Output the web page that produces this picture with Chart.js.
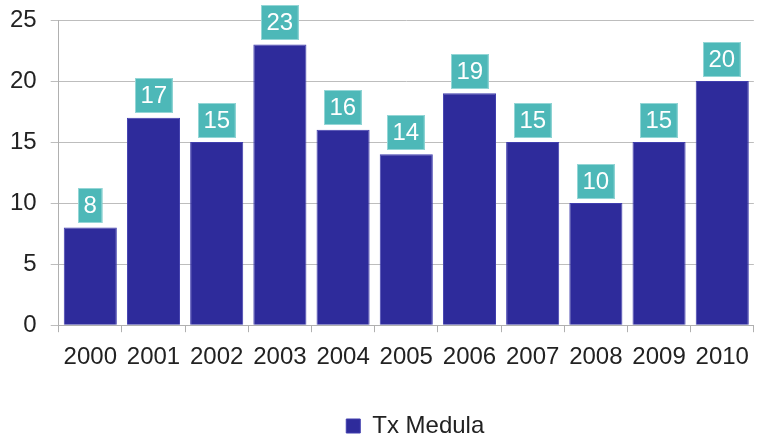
<!DOCTYPE html>
<html>
<head>
<meta charset="utf-8">
<script src="https://cdn.jsdelivr.net/npm/chart.js"></script>
<style>
  html, body { margin: 0; padding: 0; background: #fff; }
  #wrap { width: 760px; height: 436px; }
</style>
</head>
<body>
<div id="wrap"><canvas id="chart"></canvas></div>
<script>
// Data
const years = ['2000', '2001', '2002', '2003', '2004', '2005', '2006', '2007', '2008', '2009', '2010'];
const txMedula = [8, 17, 15, 23, 16, 14, 19, 15, 10, 15, 20];
const yTicks = [0, 5, 10, 15, 20, 25];

const FONT = "'Liberation Sans', Arial, sans-serif";

// Draws the teal value boxes above each bar
const valueBoxes = {
    id: 'valueBoxes',
    afterDatasetsDraw(chart) {
        const ctx = chart.ctx;
        const meta = chart.getDatasetMeta(0);
        ctx.save();
        ctx.font = '24px ' + FONT;
        ctx.textAlign = 'center';
        ctx.textBaseline = 'middle';
        meta.data.forEach((bar, i) => {
            const text = String(txMedula[i]);
            const w = ctx.measureText(text).width + 11;
            const h = 35;
            const x = Math.round(bar.x - w / 2);
            const y = Math.round(bar.y - 4.5 - h);
            ctx.fillStyle = '#4db8b8';
            ctx.fillRect(x, y, w, h);
            ctx.strokeStyle = '#94d6d6';
            ctx.lineWidth = 1;
            ctx.strokeRect(x + 0.5, y + 0.5, w - 1, h - 1);
            ctx.fillStyle = '#ffffff';
            ctx.fillText(text, x + w / 2, y + h / 2 + 1);
        });
        ctx.restore();
    }
};

// Legend sits a bit right of centre in the reference
const legendShift = {
    id: 'legendShift',
    afterLayout(chart) {
        chart.legend.left += 9;
        chart.legend.right += 9;
    }
};

new Chart(document.getElementById('chart'), {
    type: 'bar',
    data: {
        labels: years,
        datasets: [{
            label: 'Tx Medula',
            data: txMedula,
            backgroundColor: '#2e2b9b',
            borderColor: '#403eae',
            borderWidth: 1,
            categoryPercentage: 0.84,
            barPercentage: 1.0
        }]
    },
    options: {
        responsive: true,
        maintainAspectRatio: false,
        animation: false,
        layout: { padding: { top: 20, right: 1, left: -4, bottom: -12 } },
        plugins: {
            tooltip: { enabled: false },
            legend: {
                position: 'bottom',
                fullSize: false,
                labels: {
                    color: '#222',
                    font: { family: FONT, size: 24 },
                    boxWidth: 14,
                    boxHeight: 14,
                    padding: 1
                }
            }
        },
        scales: {
            x: {
                grid: {
                    offset: true,
                    drawOnChartArea: false,
                    color: '#b0b0b0',
                    tickLength: 7
                },
                border: { color: '#b0b0b0' },
                ticks: {
                    color: '#222',
                    font: { family: FONT, size: 24 },
                    padding: 11,
                    maxRotation: 0
                },
                // leave the empty band between the year labels and the legend
                afterFit(axis) {
                    axis.height += 30;
                }
            },
            y: {
                min: 0,
                max: 25,
                afterBuildTicks(axis) {
                    axis.ticks = yTicks.map(v => ({ value: v }));
                },
                afterFit(axis) {
                    axis.paddingTop = 0;
                },
                grid: {
                    color: '#bdbdbd',
                    tickLength: 8
                },
                border: { color: '#b0b0b0' },
                ticks: {
                    color: '#222',
                    font: { family: FONT, size: 24 },
                    padding: 14
                }
            }
        }
    },
    plugins: [valueBoxes, legendShift]
});
</script>
</body>
</html>
